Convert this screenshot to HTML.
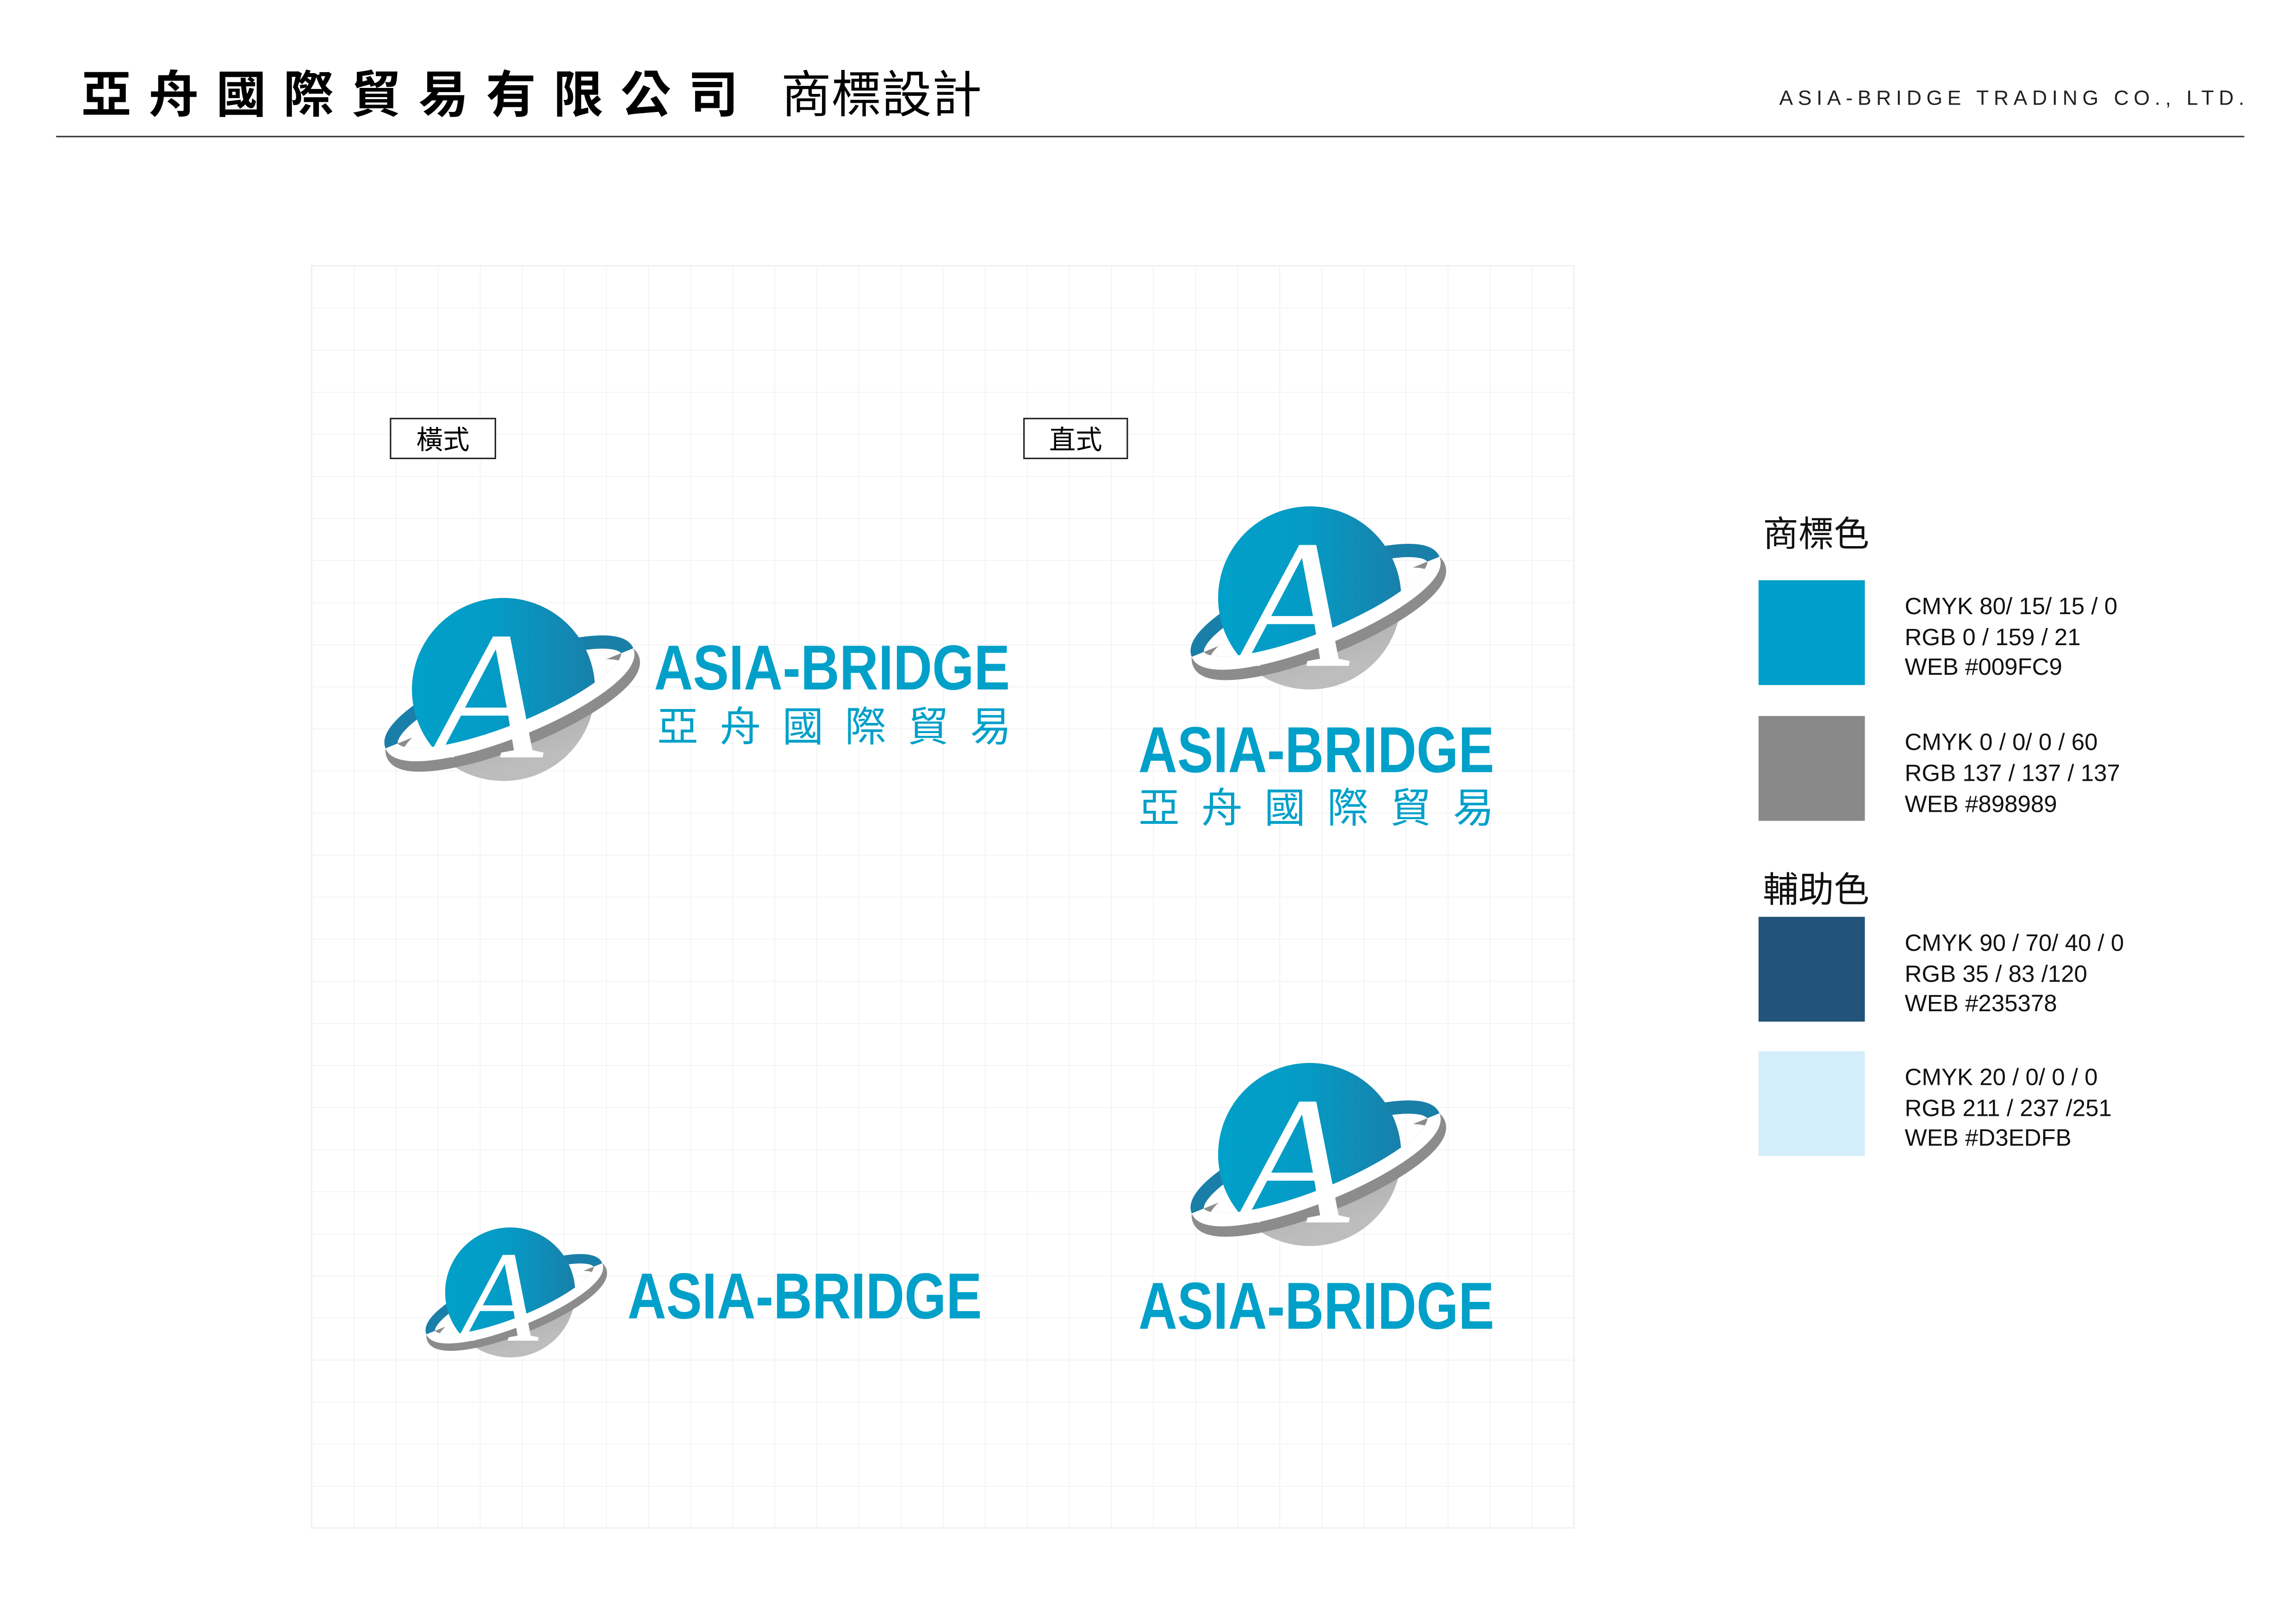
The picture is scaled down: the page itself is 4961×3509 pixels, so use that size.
<!DOCTYPE html>
<html><head><meta charset="utf-8"><style>
html,body{margin:0;padding:0;background:#fff;}
svg{display:block;}
</style></head><body>
<svg width="4961" height="3509" viewBox="0 0 1555 1100" preserveAspectRatio="none" xmlns="http://www.w3.org/2000/svg">
<defs>
<pattern id="grid" x="211" y="180" width="28.5" height="28.5" patternUnits="userSpaceOnUse">
<path d="M0 0H28.5M0 0V28.5" fill="none" stroke="#efefef" stroke-width="0.9"/>
</pattern>
<linearGradient id="blue" x1="0" y1="0" x2="1" y2="0">
<stop offset="0" stop-color="#00a0c9"/><stop offset="0.45" stop-color="#049cc6"/><stop offset="1" stop-color="#1880aa"/>
</linearGradient>
<linearGradient id="gray" x1="0" y1="0" x2="0.3" y2="1">
<stop offset="0" stop-color="#858585"/><stop offset="1" stop-color="#bdbdbd"/>
</linearGradient>
<clipPath id="upper">
<ellipse cx="85" cy="70" rx="86" ry="22" transform="rotate(-22 85 70)"/>
<rect x="-100" y="-200" width="400" height="270" transform="rotate(-22 85 70)"/>
</clipPath>
<clipPath id="lower">
<rect x="-100" y="70" width="400" height="200" transform="rotate(-22 85 70)"/>
</clipPath>
<g id="logo">
<ellipse cx="85" cy="70" rx="86" ry="22" fill="none" stroke="#1a7fa8" stroke-width="9" transform="rotate(-22 85 70)"/>
<circle cx="81" cy="64" r="62" fill="url(#gray)"/>
<circle cx="81" cy="64" r="62" fill="url(#blue)" clip-path="url(#upper)"/>
<g clip-path="url(#lower)">
<ellipse cx="85" cy="76" rx="86" ry="22" fill="none" stroke="#8c8c8c" stroke-width="12" transform="rotate(-22 85 70)"/>
<ellipse cx="85" cy="70" rx="86" ry="22" fill="none" stroke="#fff" stroke-width="9" transform="rotate(-22 85 70)"/>
</g>
<text x="32" y="110" font-family="Liberation Serif, serif" font-style="italic" font-size="124" fill="#fff">A</text>
</g>
</defs>

<rect x="211" y="180" width="855" height="855" fill="url(#grid)"/>
<rect x="211" y="180" width="855" height="855" fill="none" stroke="#efefef" stroke-width="0.9"/>

<text x="55" y="76" font-family="Liberation Sans, Noto Sans CJK TC, sans-serif" font-weight="bold" font-size="34" textLength="445" lengthAdjust="spacing" fill="#000">亞舟國際貿易有限公司</text>
<text x="529" y="76" font-family="Liberation Sans, Noto Sans CJK TC, sans-serif" font-size="34" fill="#000">商標設計</text>
<text x="1205" y="71" font-family="Liberation Sans, sans-serif" font-size="14" textLength="315" lengthAdjust="spacing" fill="#222">ASIA-BRIDGE TRADING CO., LTD.</text>
<line x1="38" y1="92.5" x2="1520" y2="92.5" stroke="#333" stroke-width="1"/>

<rect x="264.5" y="283.5" width="71" height="27" fill="#fff" stroke="#222" stroke-width="1"/>
<text x="300" y="304" text-anchor="middle" font-family="Noto Sans CJK TC, sans-serif" font-size="18">橫式</text>
<rect x="693.5" y="283.5" width="70" height="27" fill="#fff" stroke="#222" stroke-width="1"/>
<text x="728.5" y="304" text-anchor="middle" font-family="Noto Sans CJK TC, sans-serif" font-size="18">直式</text>

<use href="#logo" transform="translate(260 403)"/>
<text x="443" y="467" font-family="Liberation Sans, sans-serif" font-weight="bold" font-size="43" textLength="241" lengthAdjust="spacingAndGlyphs" fill="#00a0c9">ASIA-BRIDGE</text>
<text x="445" y="502" font-family="Noto Sans CJK TC, sans-serif" font-size="28" textLength="240" lengthAdjust="spacing" fill="#00a0c9">亞舟國際貿易</text>

<use href="#logo" transform="translate(806 341)"/>
<text x="771" y="523" font-family="Liberation Sans, sans-serif" font-weight="bold" font-size="44" textLength="241" lengthAdjust="spacingAndGlyphs" fill="#00a0c9">ASIA-BRIDGE</text>
<text x="771" y="557" font-family="Noto Sans CJK TC, sans-serif" font-size="28" textLength="241" lengthAdjust="spacing" fill="#00a0c9">亞舟國際貿易</text>

<use href="#logo" transform="translate(288 830) scale(0.71)"/>
<text x="425" y="893" font-family="Liberation Sans, sans-serif" font-weight="bold" font-size="44" textLength="240" lengthAdjust="spacingAndGlyphs" fill="#00a0c9">ASIA-BRIDGE</text>

<use href="#logo" transform="translate(806 718)"/>
<text x="771" y="900" font-family="Liberation Sans, sans-serif" font-weight="bold" font-size="45" textLength="241" lengthAdjust="spacingAndGlyphs" fill="#00a0c9">ASIA-BRIDGE</text>

<g font-family="Liberation Sans, sans-serif" font-size="16" fill="#111">
<text x="1194" y="370" font-family="Noto Sans CJK TC, sans-serif" font-size="24">商標色</text>
<rect x="1191" y="393" width="72" height="71" fill="#009fc9"/>
<text x="1290" y="416">CMYK 80/ 15/ 15 / 0</text>
<text x="1290" y="437">RGB  0 / 159 / 21</text>
<text x="1290" y="457">WEB   #009FC9</text>

<rect x="1191" y="485" width="72" height="71" fill="#898989"/>
<text x="1290" y="508">CMYK 0 / 0/ 0 / 60</text>
<text x="1290" y="529">RGB    137 / 137 / 137</text>
<text x="1290" y="550">WEB   #898989</text>

<text x="1194" y="611" font-family="Noto Sans CJK TC, sans-serif" font-size="24">輔助色</text>
<rect x="1191" y="621" width="72" height="71" fill="#235378"/>
<text x="1290" y="644">CMYK 90 / 70/ 40 / 0</text>
<text x="1290" y="665">RGB    35 / 83 /120</text>
<text x="1290" y="685">WEB   #235378</text>

<rect x="1191" y="712" width="72" height="71" fill="#d3edfb"/>
<text x="1290" y="735">CMYK 20 / 0/ 0 / 0</text>
<text x="1290" y="756">RGB    211 / 237 /251</text>
<text x="1290" y="776">WEB   #D3EDFB</text>
</g>
</svg>
</body></html>
